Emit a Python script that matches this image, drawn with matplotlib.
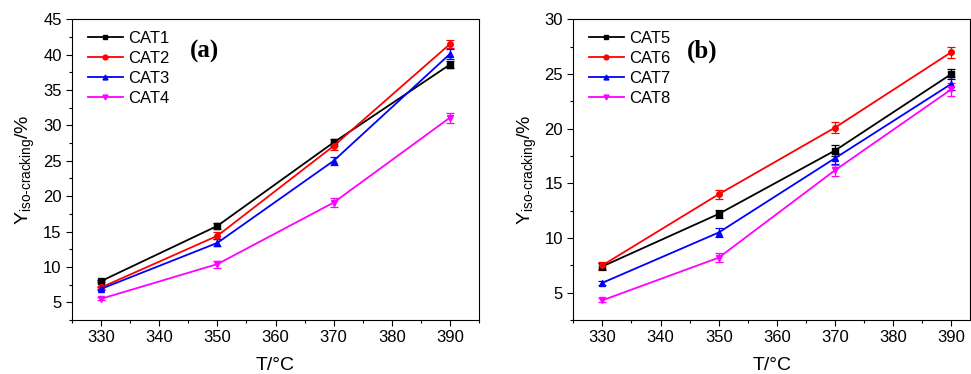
import numpy as np
import matplotlib.pyplot as plt
import matplotlib as mpl
from matplotlib.ticker import MultipleLocator
from matplotlib.lines import Line2D

plt.rcParams['font.family'] = ['Liberation Sans', 'DejaVu Sans']
plt.rcParams['mathtext.fontset'] = 'custom'
plt.rcParams['mathtext.rm'] = 'Liberation Sans'

temps = [330, 350, 370, 390]

# panel (a)
cat1 = [8.0, 15.8, 27.6, 38.6]
cat2 = [7.1, 14.4, 27.1, 41.5]
cat3 = [6.9, 13.4, 25.0, 40.1]
cat4 = [5.5, 10.4, 19.1, 31.1]
err_a = [[0.2, 0.4, 0.5, 0.5], [0.2, 0.5, 0.6, 0.6], [0.2, 0.5, 0.6, 0.7], [0.2, 0.5, 0.6, 0.7]]

# panel (b)
cat5 = [7.4, 12.2, 18.0, 25.0]
cat6 = [7.5, 14.0, 20.1, 27.0]
cat7 = [5.9, 10.5, 17.3, 24.1]
cat8 = [4.3, 8.2, 16.2, 23.6]
err_b = [[0.3, 0.4, 0.5, 0.5], [0.3, 0.4, 0.5, 0.5], [0.2, 0.4, 0.5, 0.6], [0.2, 0.4, 0.5, 0.6]]

colors = ['black', 'red', 'blue', 'magenta']
markers = ['s', 'o', '^', 'v']

fig = plt.figure(figsize=(9.71, 3.74), dpi=100)
ax1 = fig.add_axes([0.0742, 0.1444, 0.4191, 0.8040])
ax2 = fig.add_axes([0.5904, 0.1444, 0.4086, 0.8040])


def draw_panel(ax, series, labels, errs, ylim, ymajor, xlim, tag):
    handles = []
    for i in range(len(series)):
        ax.errorbar(temps, series[i], yerr=errs[i], color=colors[i], marker=markers[i],
                    markersize=4, linewidth=1.3, elinewidth=0.9, capsize=3, capthick=0.9)
        handles.append(Line2D([], [], color=colors[i], marker=markers[i], markersize=3.5,
                              linewidth=1.3, label=labels[i]))
    ax.set_xlim(xlim)
    ax.set_ylim(ylim)
    ax.xaxis.set_major_locator(MultipleLocator(10))
    ax.xaxis.set_minor_locator(MultipleLocator(5))
    ax.yaxis.set_major_locator(MultipleLocator(ymajor))
    ax.yaxis.set_minor_locator(MultipleLocator(ymajor / 2))
    ax.tick_params(which='both', direction='out', top=False, right=False, labelsize=12)
    ax.tick_params(which='major', length=4, width=0.8)
    ax.tick_params(which='minor', length=2.5, width=0.8)
    ax.set_xlabel('T/\u00b0C', fontsize=14, labelpad=8)
    ax.set_ylabel(r'Y$_{\mathregular{iso\text{-}cracking}}$/%', fontsize=14)
    ax.legend(handles=handles, loc='upper left', frameon=False, fontsize=12, handlelength=2.1,
              handletextpad=0.3, labelspacing=0.3, borderaxespad=0.3,
              bbox_to_anchor=(0.01, 1.0))
    ax.text(0.325, 0.892, tag, transform=ax.transAxes, ha='center', va='center',
            fontsize=18, fontweight='bold', family='Liberation Serif')


draw_panel(ax1, [cat1, cat2, cat3, cat4], ['CAT1', 'CAT2', 'CAT3', 'CAT4'], err_a,
           (2.5, 45), 5, (325, 395), '(a)')
draw_panel(ax2, [cat5, cat6, cat7, cat8], ['CAT5', 'CAT6', 'CAT7', 'CAT8'], err_b,
           (2.5, 30), 5, (325, 393.2), '(b)')

fig.savefig('out.png', dpi=100)
